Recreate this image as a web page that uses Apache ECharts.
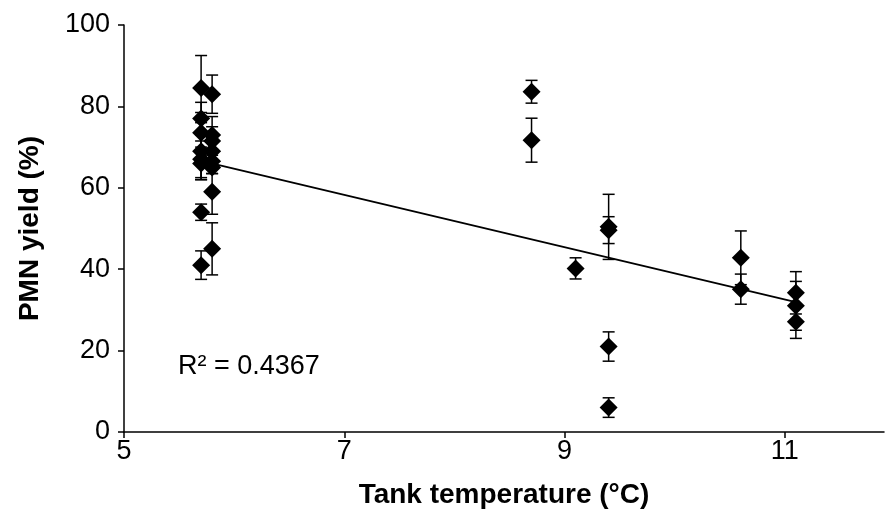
<!DOCTYPE html>
<html>
<head>
<meta charset="utf-8">
<script src="https://cdn.jsdelivr.net/npm/echarts@6/dist/echarts.min.js"></script>
<style>
  html, body { margin: 0; padding: 0; background: #ffffff; }
  #chart { width: 886px; height: 520px; }
</style>
</head>
<body>
<div id="chart"></div>
<script>
// Tank temperature (°C) for each sample
const temperature = [
  5.7, 5.7, 5.7, 5.7, 5.7, 5.7, 5.7, 5.7,
  5.8, 5.8, 5.8, 5.8, 5.8, 5.8, 5.8, 5.8,
  8.7, 8.7,
  9.1,
  9.4, 9.4, 9.4, 9.4,
  10.6, 10.6,
  11.1, 11.1, 11.1
];
// PMN yield (%) for each sample
const yieldPct = [
  84.5, 77.0, 73.5, 69.0, 67.0, 66.0, 54.0, 41.0,
  83.0, 73.0, 71.5, 69.0, 66.5, 65.0, 59.0, 45.0,
  83.6, 71.7,
  40.2,
  50.4, 49.6, 21.0, 6.0,
  42.8, 35.1,
  34.2, 31.0, 27.1
];
// Symmetric error (± %) for each sample
const yieldErr = [
  8.0, 4.0, 5.0, 7.0, 4.5, 4.0, 2.0, 3.5,
  4.7, 4.5, 3.5, 3.0, 3.0, 1.5, 5.5, 6.4,
  2.8, 5.4,
  2.6,
  8.0, 3.3, 3.6, 2.4,
  6.6, 3.7,
  5.2, 6.0, 4.1
];
// Linear trendline coefficients and fit quality
const trendSlope = -6.42;
const trendIntercept = 103.2;
const rSquared = 0.4367;

const xTicks = [5, 7, 9, 11];
const yTicks = [0, 20, 40, 60, 80, 100];

const points = temperature.map((t, i) => [t, yieldPct[i]]);
const errBars = temperature.map((t, i) => [t, yieldPct[i] - yieldErr[i], yieldPct[i] + yieldErr[i]]);
const xMin = Math.min(...temperature);
const xMax = Math.max(...temperature);
const trend = [
  [xMin, trendIntercept + trendSlope * xMin],
  [xMax, trendIntercept + trendSlope * xMax]
];

const FONT = '"Liberation Sans", Arial, sans-serif';
const chart = echarts.init(document.getElementById('chart'), null, { renderer: 'canvas' });

chart.setOption({
  animation: false,
  backgroundColor: '#ffffff',
  grid: { left: 124, right: 2, top: 25, bottom: 88, containLabel: false },
  xAxis: {
    type: 'value',
    min: 5, max: 11.9, interval: 2,
    name: 'Tank temperature (°C)',
    nameLocation: 'middle',
    nameGap: 49,
    nameTextStyle: { fontFamily: FONT, fontSize: 28, fontWeight: 'bold', color: '#000' },
    axisLine: { show: true, onZero: false, lineStyle: { color: '#000', width: 1.5 } },
    axisTick: { show: true, inside: false, length: 6, customValues: xTicks, lineStyle: { color: '#000', width: 1.5 } },
    axisLabel: {
      fontFamily: FONT, fontSize: 27, color: '#000', margin: 6,
      customValues: xTicks
    },
    splitLine: { show: false }
  },
  yAxis: {
    type: 'value',
    min: 0, max: 100, interval: 20,
    name: 'PMN yield (%)',
    nameLocation: 'middle',
    nameGap: 80,
    nameTextStyle: { fontFamily: FONT, fontSize: 28, fontWeight: 'bold', color: '#000' },
    axisLine: { show: true, lineStyle: { color: '#000', width: 1.5 } },
    axisTick: { show: true, inside: false, length: 6, lineStyle: { color: '#000', width: 1.5 } },
    axisLabel: {
      fontFamily: FONT, fontSize: 27, color: '#000', margin: 14,
      formatter: v => (yTicks.includes(v) ? String(v) : '')
    },
    splitLine: { show: false }
  },
  series: [
    {
      type: 'line',
      data: trend,
      symbol: 'none',
      lineStyle: { color: '#000', width: 1.8 },
      silent: true,
      z: 1
    },
    {
      type: 'scatter',
      data: points,
      symbol: 'diamond',
      symbolSize: [18, 18],
      itemStyle: { color: '#000', opacity: 1 },
      z: 2
    },
    {
      type: 'custom',
      data: errBars,
      z: 3,
      renderItem(params, api) {
        const x = api.value(0);
        const top = api.coord([x, api.value(2)]);
        const bot = api.coord([x, api.value(1)]);
        const hw = 6;
        const style = { stroke: '#000', lineWidth: 1.5 };
        return {
          type: 'group',
          children: [
            { type: 'line', shape: { x1: top[0], y1: top[1], x2: bot[0], y2: bot[1] }, style },
            { type: 'line', shape: { x1: top[0] - hw, y1: top[1], x2: top[0] + hw, y2: top[1] }, style },
            { type: 'line', shape: { x1: bot[0] - hw, y1: bot[1], x2: bot[0] + hw, y2: bot[1] }, style }
          ]
        };
      }
    }
  ],
  graphic: [
    {
      type: 'text',
      left: 178, top: 353,
      style: {
        text: 'R² = ' + rSquared.toFixed(4),
        fontFamily: FONT, fontSize: 27, fill: '#000'
      }
    }
  ]
});
</script>
</body>
</html>
